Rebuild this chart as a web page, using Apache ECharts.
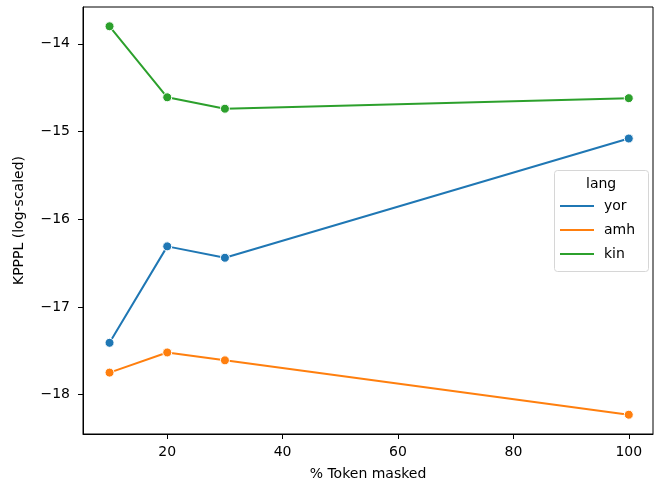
<!DOCTYPE html>
<html>
<head>
<meta charset="utf-8">
<script src="https://cdn.jsdelivr.net/npm/echarts@6/dist/echarts.min.js"></script>
<style>html,body{margin:0;padding:0;background:#fff}#c{width:654px;height:483px}</style>
</head>
<body>
<div id="c"></div>
<script>
const xValues = [10, 20, 30, 100];
const yor = [-17.41, -16.31, -16.44, -15.08];
const amh = [-17.75, -17.52, -17.61, -18.23];
const kin = [-13.80, -14.61, -14.74, -14.62];
const seriesNames = ['yor', 'amh', 'kin'];
const xTicks = [20, 40, 60, 80, 100];
const yTicks = [-18, -17, -16, -15, -14];

const colors = ['#1f77b4', '#ff7f0e', '#2ca02c'];
const font = 'DejaVu Sans';
const chart = echarts.init(document.getElementById('c'), null, {renderer: 'canvas'});
const fmt = v => String(v).replace('-', '\u2212');
function mk(name, vals, i) {
  return {
    name: name, type: 'line',
    data: xValues.map((x, k) => [x, vals[k]]),
    symbol: 'circle', symbolSize: 9,
    lineStyle: {width: 2, color: colors[i]},
    itemStyle: {color: colors[i], borderColor: '#fff', borderWidth: 1},
    emphasis: {disabled: true}
  };
}
chart.setOption({
  animation: false,
  color: colors,
  grid: {left: 83, top: 7, right: 1, bottom: 49, outerBoundsMode: 'none', containLabel: false,
         show: true, borderColor: '#000', borderWidth: 1, backgroundColor: 'transparent'},
  xAxis: {
    type: 'value', min: 5.4, max: 104.2,
    name: '% Token masked', nameLocation: 'middle', nameGap: 33,
    nameTextStyle: {fontFamily: font, fontSize: 14, color: '#000'},
    axisLine: {show: true, onZero: false, lineStyle: {color: '#000', width: 1}},
    axisTick: {show: true, length: 5, customValues: xTicks, lineStyle: {color: '#000'}},
    axisLabel: {customValues: xTicks, margin: 11, fontFamily: font, fontSize: 14, color: '#000', formatter: fmt},
    splitLine: {show: false}
  },
  yAxis: {
    type: 'value', min: -18.45, max: -13.58,
    name: 'KPPPL (log-scaled)', nameLocation: 'middle', nameGap: 57, nameRotate: 90,
    nameTextStyle: {fontFamily: font, fontSize: 14, color: '#000'},
    axisLine: {show: true, onZero: false, lineStyle: {color: '#000', width: 1}},
    axisTick: {show: true, length: 5, customValues: yTicks, lineStyle: {color: '#000'}},
    axisLabel: {customValues: yTicks, margin: 13, fontFamily: font, fontSize: 14, color: '#000', formatter: fmt},
    splitLine: {show: false}
  },
  legend: {
    data: seriesNames, orient: 'vertical', left: 560, top: 199,
    icon: 'rect', itemWidth: 34, itemHeight: 2, itemGap: 10,
    itemStyle: {borderWidth: 0},
    textStyle: {fontFamily: font, fontSize: 14, color: '#000', lineHeight: 14, padding: [0,0,0,5]},
    padding: 0
  },
  graphic: [
    {type: 'rect', left: 554, top: 170, z: -1,
     shape: {width: 94, height: 101, r: 3},
     style: {fill: 'rgba(255,255,255,0.8)', stroke: '#d6d6d6', lineWidth: 1}},
    {type: 'text', left: 586, top: 177,
     style: {text: 'lang', font: '14px "DejaVu Sans"', fill: '#000'}}
  ],
  series: [mk('yor', yor, 0), mk('amh', amh, 1), mk('kin', kin, 2)]
});
</script>
</body>
</html>
